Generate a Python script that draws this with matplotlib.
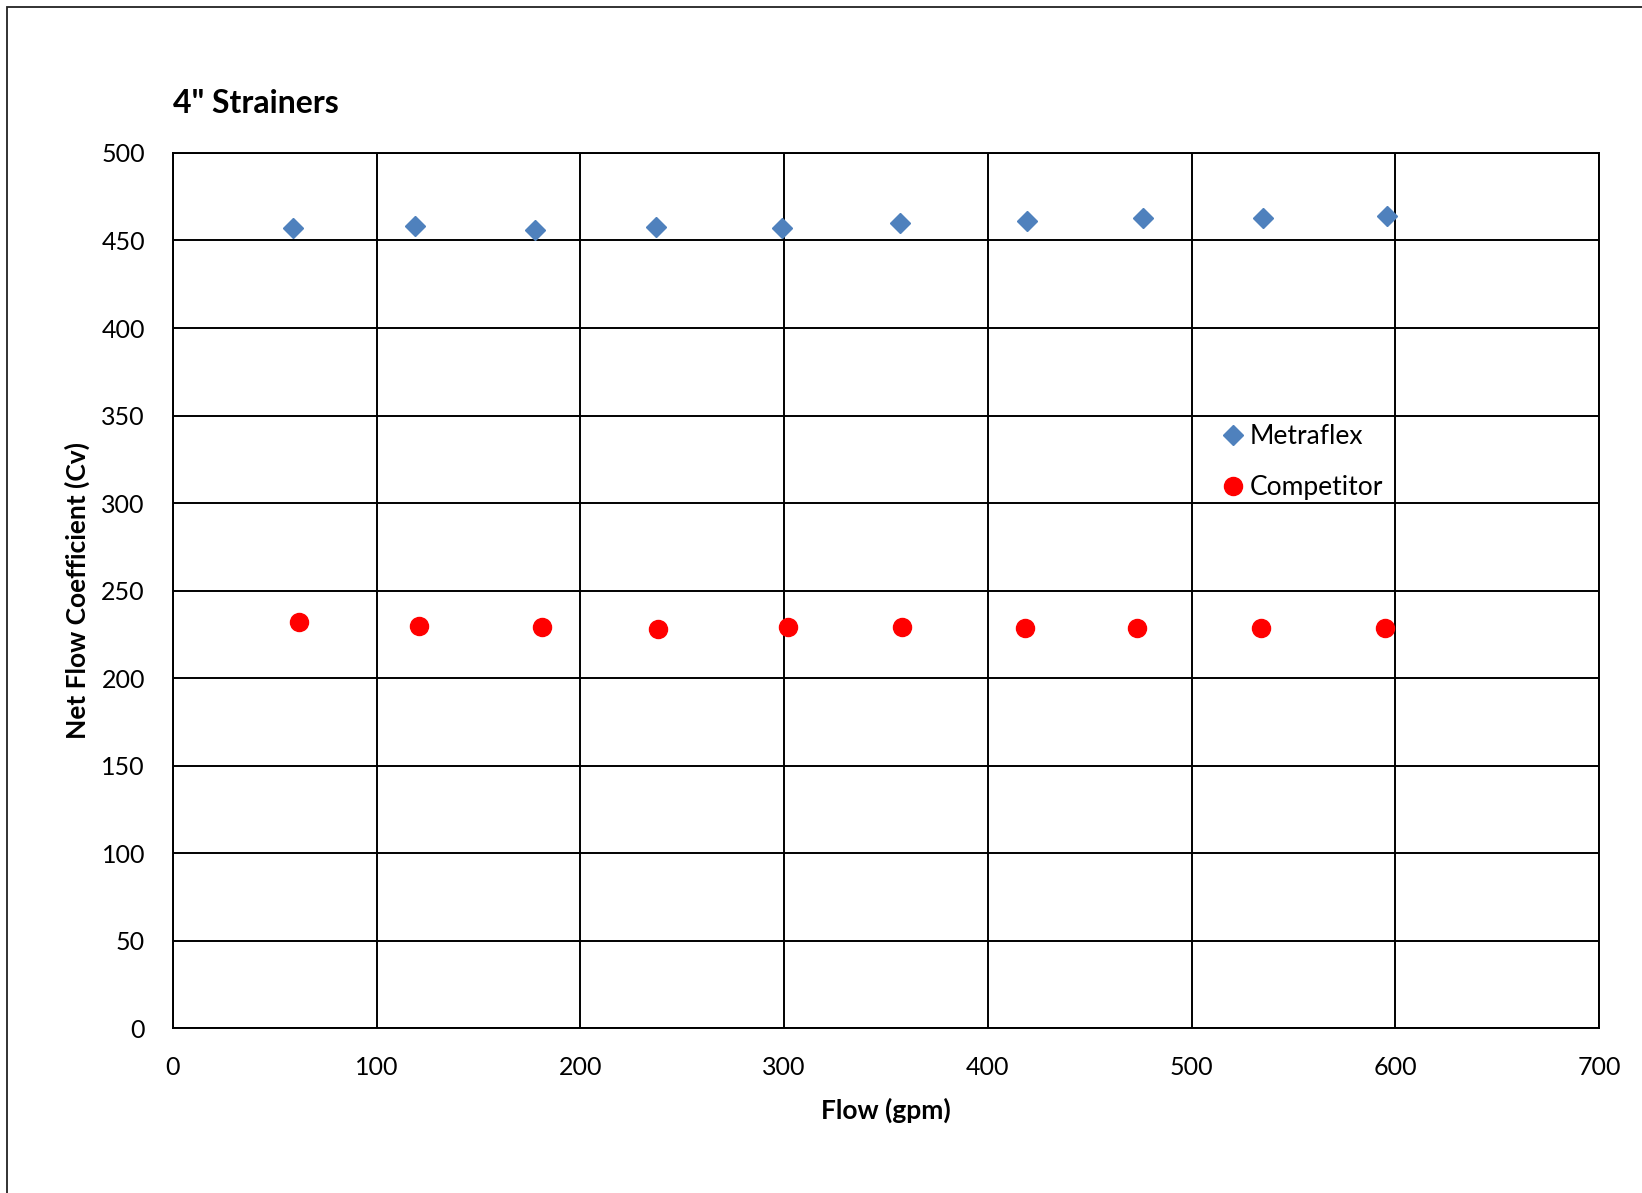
import matplotlib.pyplot as plt
from matplotlib.patches import Rectangle

# data
flow_metraflex = [59, 119, 178, 237, 299, 357, 419, 476, 535, 596]
cv_metraflex = [457.1, 458.3, 456.2, 457.7, 457.1, 459.8, 461.2, 462.7, 463.1, 464.0]

flow_competitor = [62, 121, 181, 238, 302, 358, 418, 473, 534, 595]
cv_competitor = [232.3, 229.8, 229.1, 228.3, 229.3, 229.3, 228.9, 228.7, 228.5, 228.7]

x_ticks = [0, 100, 200, 300, 400, 500, 600, 700]
y_ticks = [0, 50, 100, 150, 200, 250, 300, 350, 400, 450, 500]

plt.rcParams['font.family'] = ['Lato', 'DejaVu Sans']

fig = plt.figure(figsize=(16.42, 11.93), dpi=100)
ax = fig.add_axes([0.1052, 0.138, 0.8687, 0.7338])

# outer chart border (cut off on the right and bottom)
fig.patches.append(Rectangle((7 / 1642, -0.1), 1.2, 1 - 7 / 1193 + 0.1,
                             transform=fig.transFigure, fill=False,
                             edgecolor='#222222', linewidth=1.3))

ax.plot(flow_metraflex, cv_metraflex, linestyle='none', marker='D', markersize=10,
        color='#4F81BD', label='Metraflex', zorder=3)
ax.plot(flow_competitor, cv_competitor, linestyle='none', marker='o', markersize=13,
        color='#FF0000', label='Competitor', zorder=3)

ax.set_xlim(0, 700)
ax.set_ylim(0, 500)
ax.set_xticks(x_ticks)
ax.set_yticks(y_ticks)
ax.tick_params(axis='both', length=0, labelsize=18)
ax.tick_params(axis='y', pad=20)
ax.tick_params(axis='x', pad=20)
ax.grid(True, color='black', linewidth=1.4)
ax.set_axisbelow(True)
for s in ax.spines.values():
    s.set_color('black')
    s.set_linewidth(1.4)

ax.set_xlabel('Flow (gpm)', fontsize=19, fontweight='bold', labelpad=13)
ax.set_ylabel('Net Flow Coefficient (Cv)', fontsize=19, fontweight='bold', labelpad=8)
ax.set_title('4" Strainers', fontsize=23, fontweight='bold', loc='left', pad=29)

ax.legend(loc='center left', bbox_to_anchor=(0.7338, 0.647), frameon=False,
          fontsize=19, handlelength=1, handletextpad=0.15, labelspacing=1.0,
          borderpad=0, borderaxespad=0)

fig.savefig('out.png', dpi=100)
